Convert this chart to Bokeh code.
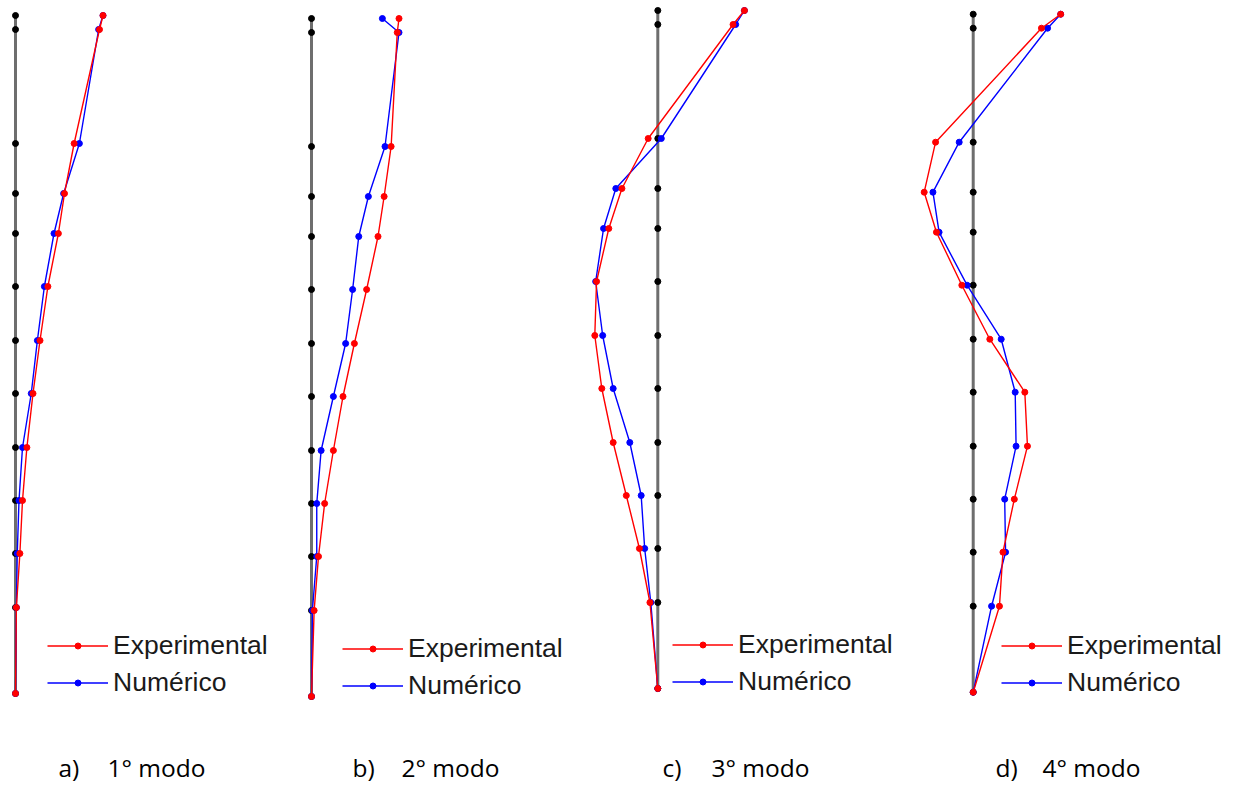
from bokeh.plotting import figure
from bokeh.layouts import row
from bokeh.models import Range1d, Legend, LegendItem, Label
from bokeh.embed import file_html
from bokeh.resources import INLINE

# Node heights (bottom to top), same for all four modes
altura = [0, 86, 140, 193, 246, 300, 353, 407, 460, 500, 550, 664, 678]

# Normalised modal displacements (bottom to top)
exp_1 = [0.0, 0.01, 0.05, 0.08, 0.13, 0.20, 0.28, 0.37, 0.49, 0.56, 0.67, 0.96, 1.00]
num_1 = [0.0, 0.01, 0.02, 0.04, 0.08, 0.18, 0.25, 0.33, 0.44, 0.55, 0.73, 0.95, 1.00]

exp_2 = [0.0, 0.03, 0.08, 0.15, 0.25, 0.36, 0.49, 0.63, 0.76, 0.83, 0.91, 0.98, 1.00]
num_2 = [0.0, 0.01, 0.06, 0.06, 0.11, 0.25, 0.39, 0.47, 0.54, 0.65, 0.84, 1.00, 0.81]

exp_3 = [0.0, -0.09, -0.21, -0.36, -0.51, -0.64, -0.72, -0.70, -0.56, -0.41, -0.11, 0.86, 0.99]
num_3 = [0.0, -0.08, -0.15, -0.19, -0.32, -0.51, -0.63, -0.71, -0.62, -0.48, 0.04, 0.89, 0.99]

exp_4 = [0.0, 0.30, 0.34, 0.47, 0.62, 0.59, 0.19, -0.13, -0.42, -0.56, -0.43, 0.78, 1.00]
num_4 = [0.0, 0.21, 0.37, 0.36, 0.49, 0.48, 0.32, -0.07, -0.39, -0.46, -0.16, 0.85, 1.00]

letras = ["a)", "b)", "c)", "d)"]
modos = ["1° modo", "2° modo", "3° modo", "4° modo"]
legenda = ["Experimental", "Numérico"]

exp_all = [exp_1, exp_2, exp_3, exp_4]
num_all = [num_1, num_2, num_3, num_4]

# layout (pixels)
H = 785
widths = [300, 280, 325, 328]
base_x = [15, 11, 77.3, 67.7]          # frame x of undeformed axis
y_start = [-92, -89, -97, -93.3]
px_per_unit = 87.5
leg_loc = [(47, 87), (42, 84), (92, 88), (96, 87)]
cap_x = [(58, 107), (52, 101), (82, 131), (90, 137)]

figs = []
for i in range(4):
    w = widths[i]
    xs = -base_x[i] / px_per_unit
    p = figure(width=w, height=H, output_backend="svg", toolbar_location=None,
               x_range=Range1d(xs, xs + w / px_per_unit),
               y_range=Range1d(y_start[i], y_start[i] + H),
               min_border=0, min_border_left=0, min_border_right=0,
               min_border_top=0, min_border_bottom=0,
               x_axis_location=None, y_axis_location=None)
    p.grid.visible = False
    p.outline_line_color = None
    p.background_fill_color = "white"

    zeros = [0.0] * len(altura)
    p.line(zeros, altura, line_color="#6e6e6e", line_width=3)
    p.scatter(zeros, altura, size=6, color="black")

    bl = p.line(num_all[i], altura, line_color="#0000ff", line_width=1.4)
    bs = p.scatter(num_all[i], altura, size=6, color="#0000ff")
    rl = p.line(exp_all[i], altura, line_color="#ff0000", line_width=1.4)
    rs = p.scatter(exp_all[i], altura, size=6, color="#ff0000")

    leg = Legend(items=[LegendItem(label=legenda[0], renderers=[rl, rs]),
                        LegendItem(label=legenda[1], renderers=[bl, bs])],
                 location=leg_loc[i], margin=0, padding=0, spacing=6,
                 glyph_width=61, glyph_height=15, label_height=30,
                 label_standoff=5, label_text_font="Liberation Sans",
                 label_text_font_size="26.5px", label_text_color="#1a1a1a",
                 border_line_color=None, background_fill_alpha=0)
    p.add_layout(leg)

    p.add_layout(Label(x=cap_x[i][0], y=18, x_units="screen", y_units="screen",
                       text=letras[i], text_font="Open Sans", text_font_size="24.5px",
                       text_color="black", text_baseline="alphabetic"))
    p.add_layout(Label(x=cap_x[i][1], y=18, x_units="screen", y_units="screen",
                       text=modos[i], text_font="Open Sans", text_font_size="24.5px",
                       text_color="black", text_baseline="alphabetic"))
    figs.append(p)

layout = row(*figs, spacing=0)
open("out.html", "w").write(file_html(layout, INLINE))
